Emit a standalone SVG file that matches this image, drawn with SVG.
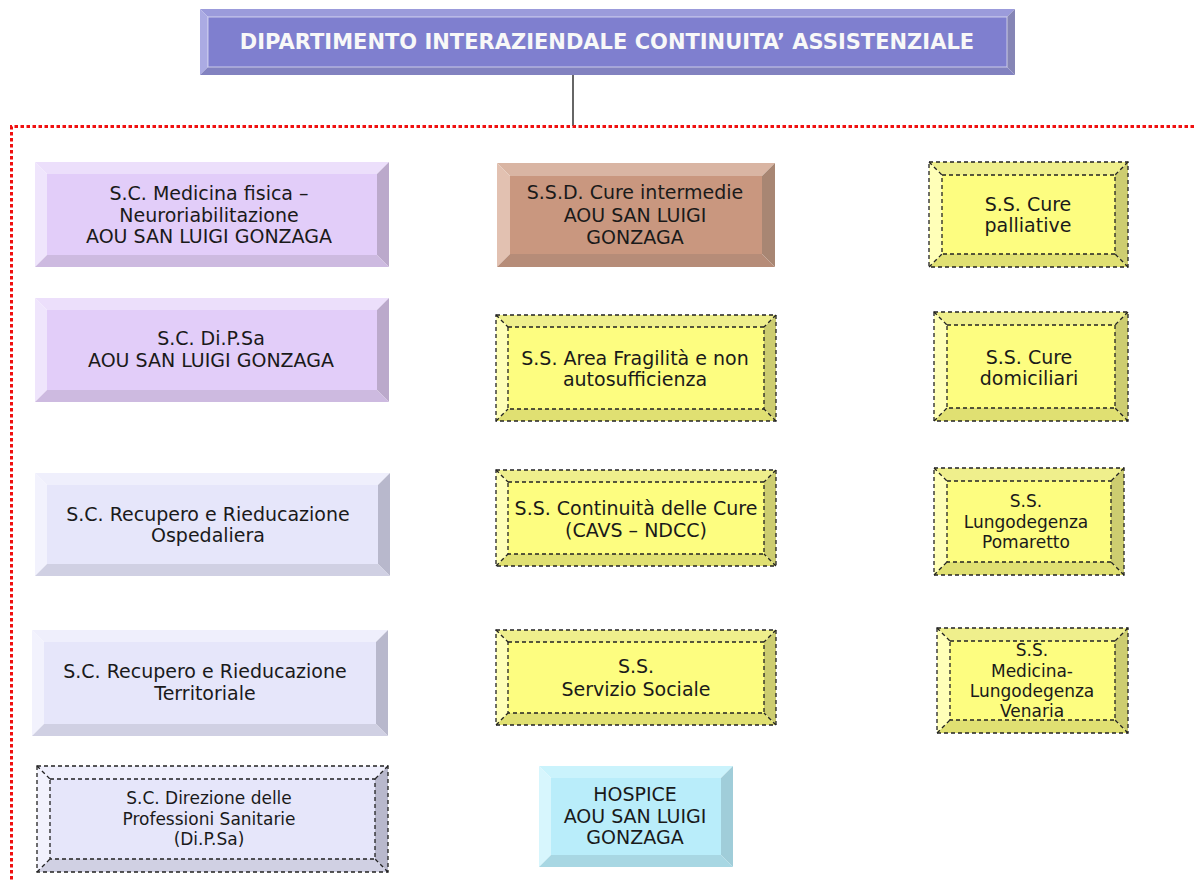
<svg xmlns="http://www.w3.org/2000/svg" width="1194" height="882" viewBox="0 0 1194 882">
<style>
text{font-family:"DejaVu Sans","Liberation Sans",sans-serif;fill:#1a1a1a;text-anchor:middle}
.f{font-size:19px}
.s{font-size:17px}
.hd{font-size:21px;font-weight:bold;fill:#f8f8f8}
.dash{fill:none;stroke:#222;stroke-width:1.3;stroke-dasharray:4 3}
.hdr .fa{fill:#7f7fcf}.hdr .t{fill:#9b9bdb}.hdr .l{fill:#ababe3}.hdr .r{fill:#8585b5}.hdr .b{fill:#8282c0}
.lav .fa{fill:#e2cdf9}.lav .t{fill:#ecdffb}.lav .l{fill:#efe5fc}.lav .r{fill:#bba9cb}.lav .b{fill:#cdbae0}
.blu .fa{fill:#e6e6fa}.blu .t{fill:#efeffc}.blu .l{fill:#f2f2fd}.blu .r{fill:#b8b8cc}.blu .b{fill:#d0d0e3}
.brn .fa{fill:#c9977f}.brn .t{fill:#d9b5a3}.brn .l{fill:#e2c1b1}.brn .r{fill:#a88673}.brn .b{fill:#b68c78}
.yel .fa{fill:#fdfd80}.yel .t{fill:#efef8c}.yel .l{fill:#ffffb8}.yel .r{fill:#cdcd70}.yel .b{fill:#e0e072}
.cya .fa{fill:#b9edfa}.cya .t{fill:#caf3fc}.cya .l{fill:#d7f6fd}.cya .r{fill:#a0cdd9}.cya .b{fill:#a8d7e3}
.hl{fill:none;stroke:#ffffff;stroke-opacity:0.6;stroke-width:1}
</style>

<g id="connectors">
<line x1="573" y1="75" x2="573" y2="126" stroke="#333" stroke-width="1.5"/>
<polyline points="1194,126.5 11.5,126.5 11.5,882" fill="none" stroke="#f01010" stroke-width="3" stroke-dasharray="3.5 2.5"/>
</g>

<g id="header" class="hdr">
<polygon class="t" points="200,9 1015,9 1007,17 208,17"/>
<polygon class="l" points="200,9 208,17 208,67 200,75"/>
<polygon class="r" points="1015,9 1015,75 1007,67 1007,17"/>
<polygon class="b" points="200,75 208,67 1007,67 1015,75"/>
<rect class="fa" x="208" y="17" width="799" height="50"/>
<rect class="hl" x="208" y="17" width="799" height="50"/>
<text class="hd" x="607" y="49">DIPARTIMENTO INTERAZIENDALE CONTINUITA’ ASSISTENZIALE</text>
</g>

<!-- Left column -->
<g id="sc-medicina-fisica" class="lav">
<polygon class="t" points="35,162 389,162 377,174 47,174"/>
<polygon class="l" points="35,162 47,174 47,255 35,267"/>
<polygon class="r" points="389,162 389,267 377,255 377,174"/>
<polygon class="b" points="35,267 47,255 377,255 389,267"/>
<rect class="fa" x="47" y="174" width="330" height="81"/>
<text class="f" x="209" y="200">S.C. Medicina fisica –</text>
<text class="f" x="209" y="222">Neuroriabilitazione</text>
<text class="f" x="209" y="243">AOU SAN LUIGI GONZAGA</text>
</g>

<g id="sc-dipsa" class="lav">
<polygon class="t" points="35,298 389,298 377,310 47,310"/>
<polygon class="l" points="35,298 47,310 47,390 35,402"/>
<polygon class="r" points="389,298 389,402 377,390 377,310"/>
<polygon class="b" points="35,402 47,390 377,390 389,402"/>
<rect class="fa" x="47" y="310" width="330" height="80"/>
<text class="f" x="211" y="345">S.C. Di.P.Sa</text>
<text class="f" x="211" y="367">AOU SAN LUIGI GONZAGA</text>
</g>

<g id="sc-recupero-ospedaliera" class="blu">
<polygon class="t" points="35,473 390,473 378,485 47,485"/>
<polygon class="l" points="35,473 47,485 47,564 35,576"/>
<polygon class="r" points="390,473 390,576 378,564 378,485"/>
<polygon class="b" points="35,576 47,564 378,564 390,576"/>
<rect class="fa" x="47" y="485" width="331" height="79"/>
<text class="f" x="208" y="521">S.C. Recupero e Rieducazione</text>
<text class="f" x="208" y="542">Ospedaliera</text>
</g>

<g id="sc-recupero-territoriale" class="blu">
<polygon class="t" points="32,630 388,630 376,642 44,642"/>
<polygon class="l" points="32,630 44,642 44,724 32,736"/>
<polygon class="r" points="388,630 388,736 376,724 376,642"/>
<polygon class="b" points="32,736 44,724 376,724 388,736"/>
<rect class="fa" x="44" y="642" width="332" height="82"/>
<text class="f" x="205" y="678">S.C. Recupero e Rieducazione</text>
<text class="f" x="205" y="700">Territoriale</text>
</g>

<g id="sc-direzione" class="blu">
<polygon class="t" points="37,766 388,766 375,779 50,779"/>
<polygon class="l" points="37,766 50,779 50,859 37,872"/>
<polygon class="r" points="388,766 388,872 375,859 375,779"/>
<polygon class="b" points="37,872 50,859 375,859 388,872"/>
<rect class="fa" x="50" y="779" width="325" height="80"/>
<rect class="dash" x="37" y="766" width="351" height="106"/>
<rect class="dash" x="50" y="779" width="325" height="80"/>
<path class="dash" d="M37,766L50,779M388,766L375,779M37,872L50,859M388,872L375,859"/>
<text class="s" x="209" y="804">S.C. Direzione delle</text>
<text class="s" x="209" y="825">Professioni Sanitarie</text>
<text class="s" x="209" y="845">(Di.P.Sa)</text>
</g>

<!-- Middle column -->
<g id="ssd-cure-intermedie" class="brn">
<polygon class="t" points="497,163 775,163 762,176 510,176"/>
<polygon class="l" points="497,163 510,176 510,254 497,267"/>
<polygon class="r" points="775,163 775,267 762,254 762,176"/>
<polygon class="b" points="497,267 510,254 762,254 775,267"/>
<rect class="fa" x="510" y="176" width="252" height="78"/>
<text class="f" x="635" y="199">S.S.D. Cure intermedie</text>
<text class="f" x="635" y="222">AOU SAN LUIGI</text>
<text class="f" x="635" y="244">GONZAGA</text>
</g>

<g id="ss-area-fragilita" class="yel">
<polygon class="t" points="496,315 776,315 764,327 508,327"/>
<polygon class="l" points="496,315 508,327 508,409 496,421"/>
<polygon class="r" points="776,315 776,421 764,409 764,327"/>
<polygon class="b" points="496,421 508,409 764,409 776,421"/>
<rect class="fa" x="508" y="327" width="256" height="82"/>
<rect class="dash" x="496" y="315" width="280" height="106"/>
<rect class="dash" x="508" y="327" width="256" height="82"/>
<path class="dash" d="M496,315L508,327M776,315L764,327M496,421L508,409M776,421L764,409"/>
<text class="f" x="635" y="365">S.S. Area Fragilità e non</text>
<text class="f" x="635" y="386">autosufficienza</text>
</g>

<g id="ss-continuita" class="yel">
<polygon class="t" points="496,470 776,470 764,482 508,482"/>
<polygon class="l" points="496,470 508,482 508,554 496,566"/>
<polygon class="r" points="776,470 776,566 764,554 764,482"/>
<polygon class="b" points="496,566 508,554 764,554 776,566"/>
<rect class="fa" x="508" y="482" width="256" height="72"/>
<rect class="dash" x="496" y="470" width="280" height="96"/>
<rect class="dash" x="508" y="482" width="256" height="72"/>
<path class="dash" d="M496,470L508,482M776,470L764,482M496,566L508,554M776,566L764,554"/>
<text class="f" x="636" y="515">S.S. Continuità delle Cure</text>
<text class="f" x="636" y="537">(CAVS – NDCC)</text>
</g>

<g id="ss-servizio-sociale" class="yel">
<polygon class="t" points="496,630 776,630 764,642 508,642"/>
<polygon class="l" points="496,630 508,642 508,713 496,725"/>
<polygon class="r" points="776,630 776,725 764,713 764,642"/>
<polygon class="b" points="496,725 508,713 764,713 776,725"/>
<rect class="fa" x="508" y="642" width="256" height="71"/>
<rect class="dash" x="496" y="630" width="280" height="95"/>
<rect class="dash" x="508" y="642" width="256" height="71"/>
<path class="dash" d="M496,630L508,642M776,630L764,642M496,725L508,713M776,725L764,713"/>
<text class="f" x="636" y="673">S.S.</text>
<text class="f" x="636" y="696">Servizio Sociale</text>
</g>

<g id="hospice" class="cya">
<polygon class="t" points="539,766 733,766 721,778 551,778"/>
<polygon class="l" points="539,766 551,778 551,855 539,867"/>
<polygon class="r" points="733,766 733,867 721,855 721,778"/>
<polygon class="b" points="539,867 551,855 721,855 733,867"/>
<rect class="fa" x="551" y="778" width="170" height="77"/>
<text class="f" x="635" y="801">HOSPICE</text>
<text class="f" x="635" y="823">AOU SAN LUIGI</text>
<text class="f" x="635" y="844">GONZAGA</text>
</g>

<!-- Right column -->
<g id="ss-cure-palliative" class="yel">
<polygon class="t" points="929,162 1128,162 1115,175 942,175"/>
<polygon class="l" points="929,162 942,175 942,254 929,267"/>
<polygon class="r" points="1128,162 1128,267 1115,254 1115,175"/>
<polygon class="b" points="929,267 942,254 1115,254 1128,267"/>
<rect class="fa" x="942" y="175" width="173" height="79"/>
<rect class="dash" x="929" y="162" width="199" height="105"/>
<rect class="dash" x="942" y="175" width="173" height="79"/>
<path class="dash" d="M929,162L942,175M1128,162L1115,175M929,267L942,254M1128,267L1115,254"/>
<text class="f" x="1028" y="211">S.S. Cure</text>
<text class="f" x="1028" y="232">palliative</text>
</g>

<g id="ss-cure-domiciliari" class="yel">
<polygon class="t" points="934,312 1128,312 1115,325 947,325"/>
<polygon class="l" points="934,312 947,325 947,408 934,421"/>
<polygon class="r" points="1128,312 1128,421 1115,408 1115,325"/>
<polygon class="b" points="934,421 947,408 1115,408 1128,421"/>
<rect class="fa" x="947" y="325" width="168" height="83"/>
<rect class="dash" x="934" y="312" width="194" height="109"/>
<rect class="dash" x="947" y="325" width="168" height="83"/>
<path class="dash" d="M934,312L947,325M1128,312L1115,325M934,421L947,408M1128,421L1115,408"/>
<text class="f" x="1029" y="364">S.S. Cure</text>
<text class="f" x="1029" y="385">domiciliari</text>
</g>

<g id="ss-lungodegenza-pomaretto" class="yel">
<polygon class="t" points="934,468 1124,468 1111,481 947,481"/>
<polygon class="l" points="934,468 947,481 947,562 934,575"/>
<polygon class="r" points="1124,468 1124,575 1111,562 1111,481"/>
<polygon class="b" points="934,575 947,562 1111,562 1124,575"/>
<rect class="fa" x="947" y="481" width="164" height="81"/>
<rect class="dash" x="934" y="468" width="190" height="107"/>
<rect class="dash" x="947" y="481" width="164" height="81"/>
<path class="dash" d="M934,468L947,481M1124,468L1111,481M934,575L947,562M1124,575L1111,562"/>
<text class="s" x="1026" y="507">S.S.</text>
<text class="s" x="1026" y="528">Lungodegenza</text>
<text class="s" x="1026" y="548">Pomaretto</text>
</g>

<g id="ss-medicina-lungodegenza-venaria" class="yel">
<polygon class="t" points="937,628 1128,628 1115,641 950,641"/>
<polygon class="l" points="937,628 950,641 950,720 937,733"/>
<polygon class="r" points="1128,628 1128,733 1115,720 1115,641"/>
<polygon class="b" points="937,733 950,720 1115,720 1128,733"/>
<rect class="fa" x="950" y="641" width="165" height="79"/>
<rect class="dash" x="937" y="628" width="191" height="105"/>
<rect class="dash" x="950" y="641" width="165" height="79"/>
<path class="dash" d="M937,628L950,641M1128,628L1115,641M937,733L950,720M1128,733L1115,720"/>
<text class="s" x="1032" y="656">S.S.</text>
<text class="s" x="1032" y="677">Medicina-</text>
<text class="s" x="1032" y="697">Lungodegenza</text>
<text class="s" x="1032" y="717">Venaria</text>
</g>
</svg>
